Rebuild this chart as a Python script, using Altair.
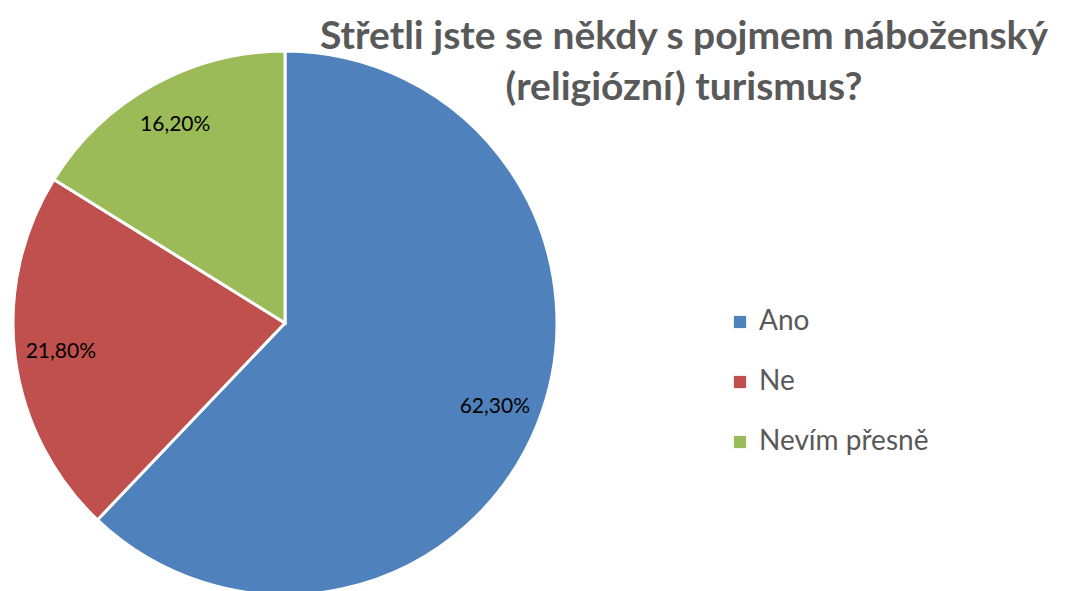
import altair as alt
import pandas as pd

categories = ["Ano", "Ne", "Nevím přesně"]
values = [62.3, 21.8, 16.2]
labels = ["62,30%", "21,80%", "16,20%"]
colors = ["#4F81BD", "#C0504D", "#9BBB59"]
title_lines = ["Střetli jste se někdy s pojmem náboženský", "(religiózní) turismus?"]

df = pd.DataFrame({"cat": categories, "val": values, "lab": labels, "ord": list(range(len(categories)))})

W, H = 1049, 583
CX, CY = 285 - 8, 323 - 8
R = 272
FONT = "Lato"

base = alt.Chart(df).encode(
    theta=alt.Theta("val:Q", stack=True),
    order=alt.Order("ord:Q"),
)

pie = base.mark_arc(outerRadius=R, stroke="white", strokeWidth=3).encode(
    x=alt.value(CX), y=alt.value(CY),
    color=alt.Color(
        "cat:N",
        sort=categories,
        scale=alt.Scale(domain=categories, range=colors),
        legend=alt.Legend(
            title=None, orient="none", legendX=718, legendY=300,
            symbolType="square", symbolSize=150, symbolStrokeWidth=0,
            labelFontSize=28, labelFont=FONT, labelColor="#595959",
            labelOffset=5, rowPadding=32, labelLimit=400,
        ),
    ),
)

text = base.mark_text(radius=226, fontSize=21, font=FONT, color="black").encode(
    x=alt.value(CX), y=alt.value(CY), text="lab:N"
)

tdf = pd.DataFrame({"t": title_lines, "i": [0, 1]})
title = alt.Chart(tdf).transform_calculate(yy="37 + datum.i * 51").mark_text(
    fontSize=39, font=FONT, fontWeight="bold", color="#595959", align="center", baseline="middle"
).encode(
    x=alt.value(684 - 8),
    y=alt.Y("yy:Q", scale=alt.Scale(domain=[8, 8 + H], range=[0, H]), axis=None),
    text="t:N",
)

chart = alt.layer(pie, text, title).properties(
    width=W, height=H, padding=0, autosize=alt.AutoSizeParams(type="none")
).configure_view(stroke=None)

chart.save("out.html", embed_options={"renderer": "svg", "actions": False})
